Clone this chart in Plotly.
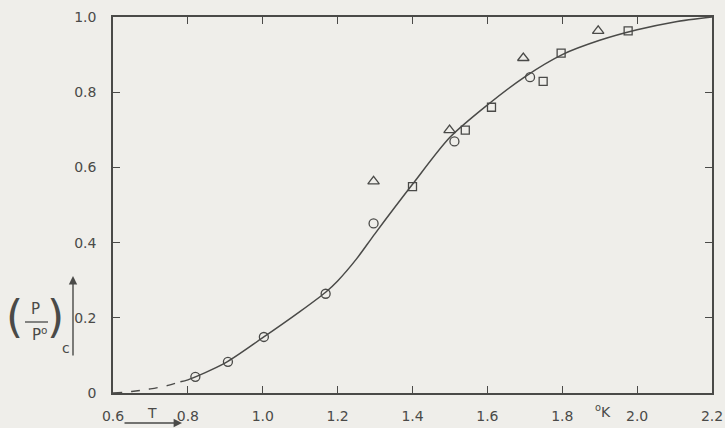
import plotly.graph_objects as go

# Smooth curve
curve_x = [0.78, 0.8, 0.9, 1.0, 1.1, 1.168, 1.2, 1.25, 1.3, 1.4, 1.5, 1.6, 1.7, 1.8, 1.9, 2.0, 2.1, 2.2]
curve_y = [0.030, 0.035, 0.080, 0.147, 0.217, 0.268, 0.298, 0.356, 0.424, 0.555, 0.680, 0.766, 0.841, 0.900, 0.938, 0.966, 0.987, 1.0]
dash_x = [0.6, 0.65, 0.7, 0.75, 0.78]
dash_y = [0.0, 0.004, 0.011, 0.021, 0.030]

# Data points
circle_x = [0.82, 0.907, 1.003, 1.168, 1.296, 1.512, 1.714]
circle_y = [0.043, 0.083, 0.149, 0.264, 0.451, 0.669, 0.840]
square_x = [1.400, 1.541, 1.611, 1.749, 1.797, 1.976]
square_y = [0.549, 0.699, 0.760, 0.829, 0.904, 0.963]
tri_x = [1.296, 1.499, 1.696, 1.896]
tri_y = [0.563, 0.699, 0.891, 0.963]

x_ticks = [0.6, 0.8, 1.0, 1.2, 1.4, 1.6, 1.8, 2.0, 2.2]
x_tick_text = ["0.6", "0.8", "1.0", "1.2", "1.4", "1.6", "1.8", "2.0", "2.2"]
y_ticks = [0, 0.2, 0.4, 0.6, 0.8, 1.0]
y_tick_text = ["0", "0.2", "0.4", "0.6", "0.8", "1.0"]

ink = "#4a4a48"
bg = "#efeeea"

fig = go.Figure()
fig.add_trace(go.Scatter(x=dash_x, y=dash_y, mode="lines",
                         line=dict(color=ink, width=1.4, dash="dash", shape="spline"),
                         hoverinfo="skip"))
fig.add_trace(go.Scatter(x=curve_x, y=curve_y, mode="lines",
                         line=dict(color=ink, width=1.5, shape="spline", smoothing=0.8),
                         hoverinfo="skip"))
mk = dict(color=ink, line=dict(color=ink, width=1.3))
fig.add_trace(go.Scatter(x=circle_x, y=circle_y, mode="markers",
                         marker=dict(symbol="circle-open", size=9, **mk)))
fig.add_trace(go.Scatter(x=square_x, y=square_y, mode="markers",
                         marker=dict(symbol="square-open", size=8, **mk)))
fig.add_trace(go.Scatter(x=tri_x, y=tri_y, mode="markers",
                         marker=dict(symbol="triangle-up-open", size=10, **mk)))

font = dict(family="DejaVu Sans, sans-serif", size=14, color=ink)

fig.update_layout(
    width=725, height=428,
    margin=dict(l=113, r=13, t=17, b=35),
    paper_bgcolor=bg, plot_bgcolor=bg,
    showlegend=False,
    font=font,
    xaxis=dict(range=[0.6, 2.2], tickvals=x_ticks, ticktext=x_tick_text,
               ticks="inside", ticklen=7, tickcolor=ink, tickwidth=1.2,
               showline=True, linecolor=ink, linewidth=1.5, mirror="ticks",
               showgrid=False, zeroline=False, tickfont=font, ticklabelstandoff=9,
               automargin=False),
    yaxis=dict(range=[0, 1.0], tickvals=y_ticks, ticktext=y_tick_text,
               ticks="inside", ticklen=7, tickcolor=ink, tickwidth=1.2,
               showline=True, linecolor=ink, linewidth=1.5, mirror="ticks",
               showgrid=False, zeroline=False, tickfont=font, ticklabelstandoff=12,
               automargin=False),
)

ann = []
def A(text, x, y, size=14, **kw):
    ann.append(dict(text=text, x=x, y=y, xref="paper", yref="paper", showarrow=False,
                    xanchor="center", yanchor="middle",
                    font=dict(family=font["family"], size=size, color=ink), **kw))

pw = 725 - 113 - 13
ph = 428 - 17 - 35
def px(xp): return (xp - 113) / pw
def py(yp): return (428 - 35 - yp) / ph

A("T", px(152), py(413))
A("<sup>o</sup>K", px(603), py(411))
# y label: (P / P°)_c
A("(", px(15), py(316), size=44)
A(")", px(55), py(316), size=44)
A("P", px(36), py(309), size=15)
A("P<sup>o</sup>", px(39), py(334), size=15)
A("c", px(66), py(348), size=14)
fig.update_layout(annotations=ann)

# fraction bar
fig.add_shape(type="line", xref="paper", yref="paper",
              x0=px(25), x1=px(48), y0=py(322), y1=py(322), line=dict(color=ink, width=1.3))
# arrows
fig.add_annotation(x=px(73), y=py(276), ax=0, ay=81, xref="paper", yref="paper",
                   axref="pixel", ayref="pixel", showarrow=True, arrowhead=2, arrowsize=1.2,
                   arrowwidth=1.4, arrowcolor=ink, text="")
fig.add_annotation(x=px(182), y=py(423), ax=-59, ay=0, xref="paper", yref="paper",
                   axref="pixel", ayref="pixel", showarrow=True, arrowhead=2, arrowsize=1.2,
                   arrowwidth=1.4, arrowcolor=ink, text="")

fig.write_html("out.html")
